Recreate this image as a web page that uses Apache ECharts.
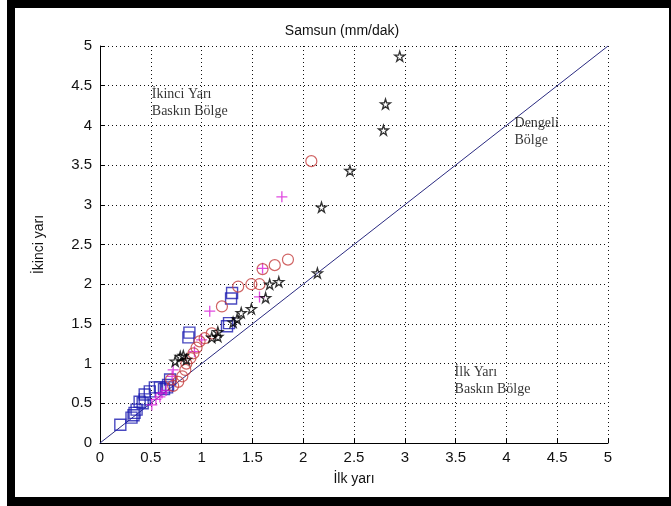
<!DOCTYPE html>
<html>
<head>
<meta charset="utf-8">
<script src="https://cdn.jsdelivr.net/npm/echarts@6/dist/echarts.min.js"></script>
<style>
  html, body { margin: 0; padding: 0; background: #fff; }
  #frame { position: absolute; left: 7px; top: 0; width: 664px; height: 506px; background: #000; }
  #chart { position: absolute; left: 15px; top: 8px; width: 654px; height: 489px; background: #fff; }
</style>
</head>
<body>
<div id="frame"></div>
<div id="chart"></div>
<script>
  // ilk yarı / ikinci yarı değerleri (mm/dak)
  const starPts = [
    [2.95, 4.87], [2.81, 4.27], [2.79, 3.94], [2.46, 3.43], [2.18, 2.97], [2.14, 2.14],
    [1.76, 2.03], [1.67, 2.00], [1.63, 1.83], [1.49, 1.69], [1.39, 1.64], [1.35, 1.56],
    [1.31, 1.52], [1.16, 1.40], [1.16, 1.34], [1.10, 1.33], [0.85, 1.05], [0.79, 1.09],
    [0.74, 1.03], [0.82, 1.10]
  ];
  const circlePts = [
    [2.08, 3.55], [1.85, 2.31], [1.72, 2.24], [1.60, 2.19], [1.57, 2.00], [1.49, 2.00],
    [1.36, 1.97], [1.20, 1.72], [1.10, 1.38], [1.03, 1.32], [0.98, 1.28], [0.95, 1.20],
    [0.92, 1.13], [0.89, 1.07], [0.85, 1.00], [0.84, 0.92], [0.81, 0.84], [0.77, 0.77],
    [0.72, 0.72], [0.70, 0.80]
  ];
  const plusPts = [
    [1.79, 3.10], [1.60, 2.20], [1.57, 1.84], [1.08, 1.66], [1.00, 1.30], [0.93, 1.15],
    [0.72, 0.92], [0.71, 0.84], [0.65, 0.66], [0.61, 0.63], [0.59, 0.58], [0.55, 0.55],
    [0.51, 0.48]
  ];
  const squarePts = [
    [1.30, 1.89], [1.29, 1.82], [1.27, 1.51], [1.25, 1.47], [0.88, 1.39], [0.87, 1.33],
    [0.69, 0.80], [0.67, 0.73], [0.66, 0.70], [0.63, 0.68], [0.59, 0.70], [0.54, 0.70],
    [0.49, 0.65], [0.44, 0.61], [0.44, 0.55], [0.42, 0.50], [0.39, 0.52], [0.36, 0.42],
    [0.34, 0.38], [0.33, 0.35], [0.31, 0.32], [0.20, 0.23]
  ];
  const linePts = [[0, 0], [5, 5]];
  const tickValues = [0, 0.5, 1, 1.5, 2, 2.5, 3, 3.5, 4, 4.5, 5];
  const notes = [
    { text: 'İkinci Yarı\nBaskın Bölge', pos: [0.51, 4.28] },
    { text: 'Dengeli\nBölge', pos: [4.08, 3.92] },
    { text: 'İlk Yarı\nBaskın Bölge', pos: [3.49, 0.78] }
  ];

  const sansFont = '"Liberation Sans Narrow", "Liberation Sans", Arial, sans-serif';
  const serifFont = '"Liberation Serif", "DejaVu Serif", serif';
  const starPath = 'path://M50,0 L61,35 L98,35 L68,57 L79,91 L50,70 L21,91 L32,57 L2,35 L39,35 Z';
  const plusPath = 'path://M0,5 L10,5 M5,0 L5,10';

  const axisCommon = {
    type: 'value',
    min: 0,
    max: 5,
    interval: 0.5,
    axisLine: { show: true, onZero: false, lineStyle: { color: '#000', width: 1 } },
    axisTick: { show: true, inside: true, length: 5, lineStyle: { color: '#000' } },
    axisLabel: {
      color: '#111', fontFamily: sansFont, fontSize: 15,
      formatter: (v) => (tickValues.includes(v) ? String(v) : '')
    },
    splitLine: { show: true, lineStyle: { color: '#111', width: 1, type: [1, 3] } },
    nameLocation: 'middle',
    nameTextStyle: { color: '#111', fontFamily: sansFont, fontSize: 14 }
  };

  const chart = echarts.init(document.getElementById('chart'), null, { renderer: 'canvas' });

  const option = {
    animation: false,
    title: {
      text: 'Samsun (mm/dak)',
      left: 'center',
      top: 11,
      textStyle: { color: '#111', fontFamily: sansFont, fontSize: 14, fontWeight: 'normal' }
    },
    grid: { left: 85, top: 38, right: 61, bottom: 54 },
    xAxis: Object.assign({}, axisCommon, {
      name: 'İlk yarı', nameGap: 29,
      axisLabel: Object.assign({}, axisCommon.axisLabel, { margin: 7 })
    }),
    yAxis: Object.assign({}, axisCommon, {
      name: 'İkinci yarı', nameGap: 54,
      axisLabel: Object.assign({}, axisCommon.axisLabel, { margin: 8 })
    }),
    series: [
      {
        type: 'line',
        data: linePts,
        symbol: 'none',
        lineStyle: { color: '#2a2a80', width: 1 },
        z: 1
      },
      {
        type: 'scatter',
        data: squarePts,
        symbol: 'rect',
        symbolSize: 11,
        itemStyle: { color: 'transparent', borderColor: '#1c1cb0', borderWidth: 1.4 },
        z: 3
      },
      {
        type: 'scatter',
        data: plusPts,
        symbol: plusPath,
        symbolSize: 11,
        itemStyle: { color: 'transparent', borderColor: '#d81ed8', borderWidth: 1.3 },
        z: 3
      },
      {
        type: 'scatter',
        data: circlePts,
        symbol: 'circle',
        symbolSize: 11,
        itemStyle: { color: 'transparent', borderColor: '#c43c3c', borderWidth: 1.2 },
        z: 3
      },
      {
        type: 'scatter',
        data: starPts,
        symbol: starPath,
        symbolSize: 10,
        itemStyle: { color: 'transparent', borderColor: '#000', borderWidth: 1.3 },
        z: 4
      },
      {
        type: 'scatter',
        data: notes.map((n) => ({ value: n.pos, name: n.text })),
        symbolSize: 0,
        silent: true,
        label: {
          show: true,
          position: 'right',
          distance: 0,
          formatter: (p) => p.name,
          color: '#000',
          fontFamily: serifFont,
          fontSize: 14,
          lineHeight: 17,
          align: 'left'
        },
        z: 5
      }
    ]
  };

  chart.setOption(option);

  window.addEventListener('resize', () => {
    chart.resize();
  });
</script>
</body>
</html>
